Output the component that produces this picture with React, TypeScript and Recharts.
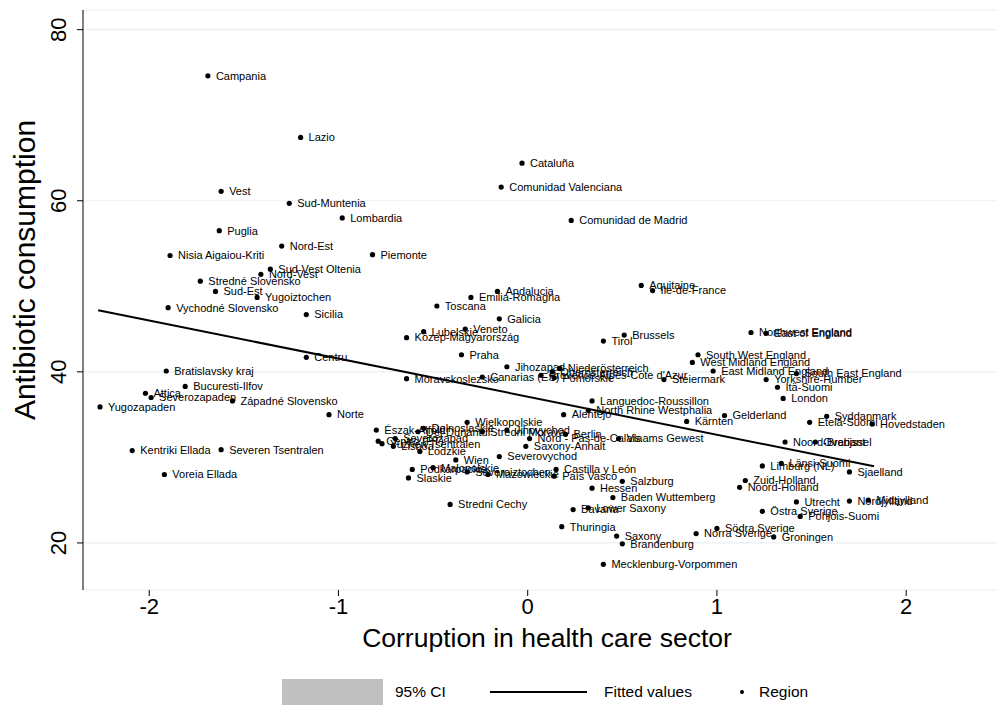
import { CartesianGrid, Scatter, ScatterChart, XAxis, YAxis } from "recharts";

// Regions: name, corruption index, antibiotic consumption.
const regionNames = [
  "Campania", "Lazio", "Cataluña", "Comunidad Valenciana", "Vest", "Sud-Muntenia",
  "Lombardia", "Comunidad de Madrid", "Puglia", "Nord-Est", "Piemonte", "Nisia Aigaiou-Kriti",
  "Sud-Vest Oltenia", "Nord-Vest", "Stredné Slovensko", "Sud-Est", "Yugoiztochen",
  "Vychodné Slovensko", "Sicilia", "Centru", "Bratislavsky kraj", "Bucuresti-Ilfov", "Attica",
  "Severozapaden", "Západné Slovensko", "Yugozapaden", "Norte", "Kentriki Ellada",
  "Severen Tsentralen", "Voreia Ellada", "Aquitaine", "Ile-de-France", "Andalucia",
  "Emilia-Romagna", "Toscana", "Galicia", "Lubelskie", "Veneto", "Közép-Magyarország", "Praha",
  "Brussels", "Tirol", "Northwest England", "East of England", "South West England",
  "West Midland England", "East Midland England", "South East England", "Steiermark",
  "Yorkshire-Humber", "Itä-Suomi", "London", "Jihozapad", "Moravskoslezsko", "Canarias (ES)",
  "Languedoc-Roussillon", "North Rhine Westphalia", "Alentejo", "Gelderland", "Kärnten",
  "Syddanmark", "Etelä-Suomi", "Hovedstaden", "Wielkopolskie", "Észak-Alföld", "Dolnoslaskie",
  "Dél-Dunántúl", "Stredni Morava", "Jihovychod", "Berlin", "Nord - Pas-de-Calais",
  "Vlaams Gewest", "Severozapad", "Centro (PT)", "Yuzhen Tsentralen", "Lisboa", "Lodzkie",
  "Saxony-Anhalt", "Noord-Brabant", "Overijssel", "Wien", "Severovychod", "Länsi-Suomi",
  "Limburg (NL)", "Malopolskie", "Podkarpackie", "Castilla y León", "Severoiztochen",
  "Sjaelland", "Mazowieckie", "País Vasco", "Slaskie", "Zuid-Holland", "Salzburg",
  "Noord-Holland", "Hessen", "Baden Wuttemberg", "Utrecht", "Nordjylland", "Midtjylland",
  "Stredni Cechy", "Lower Saxony", "Bavaria", "Östra Sverige", "Pohjois-Suomi", "Thuringia",
  "Södra Sverige", "Norra Sverige", "Saxony", "Groningen", "Brandenburg",
  "Mecklenburg-Vorpommen", "Niederösterreich", "Oberösterreich", "Provence-Alpes-Cote d'Azur",
  "Pomorskie",
];

const corruption = [
  -1.69, -1.2, -0.03, -0.14, -1.62, -1.26,
  -0.98, 0.23, -1.63, -1.3, -0.82, -1.89,
  -1.36, -1.41, -1.73, -1.65, -1.43,
  -1.9, -1.17, -1.17, -1.91, -1.81, -2.02,
  -1.99, -1.56, -2.26, -1.05, -2.09,
  -1.62, -1.92, 0.6, 0.66, -0.16,
  -0.3, -0.48, -0.15, -0.55, -0.33, -0.64, -0.35,
  0.51, 0.4, 1.18, 1.26, 0.9,
  0.87, 0.98, 1.42, 0.72,
  1.26, 1.32, 1.35, -0.11, -0.64, -0.24,
  0.34, 0.32, 0.19, 1.04, 0.84,
  1.58, 1.49, 1.82, -0.32, -0.8, -0.55,
  -0.58, -0.24, -0.11, 0.2, 0.01,
  0.48, -0.7, -0.79, -0.77, -0.71, -0.57,
  -0.01, 1.36, 1.52, -0.38, -0.15, 1.34,
  1.24, -0.5, -0.61, 0.15, -0.32,
  1.7, -0.21, 0.14, -0.63, 1.15, 0.5,
  1.12, 0.34, 0.45, 1.42, 1.7, 1.8,
  -0.41, 0.32, 0.24, 1.24, 1.44, 0.18,
  1.0, 0.89, 0.47, 1.3, 0.5,
  0.4, 0.17, 0.13, 0.07,
  0.14,
];

const antibiotic = [
  74.6, 67.4, 64.4, 61.6, 61.1, 59.7,
  58.0, 57.7, 56.5, 54.7, 53.7, 53.6,
  52.0, 51.4, 50.6, 49.4, 48.7,
  47.5, 46.7, 41.7, 40.1, 38.3, 37.5,
  37.0, 36.6, 35.9, 35.0, 30.8,
  30.9, 28.0, 50.1, 49.5, 49.4,
  48.7, 47.7, 46.2, 44.7, 45.0, 44.0, 42.0,
  44.3, 43.6, 44.6, 44.5, 42.0,
  41.1, 40.1, 39.8, 39.1,
  39.1, 38.2, 36.9, 40.6, 39.2, 39.4,
  36.6, 35.5, 35.0, 34.9, 34.2,
  34.8, 34.1, 33.9, 34.1, 33.2, 33.4,
  33.0, 33.0, 33.2, 32.7, 32.2,
  32.2, 32.2, 31.9, 31.6, 31.3, 30.7,
  31.3, 31.8, 31.8, 29.7, 30.1, 29.3,
  29.0, 28.8, 28.6, 28.6, 28.3,
  28.3, 28.0, 27.8, 27.6, 27.3, 27.2,
  26.5, 26.4, 25.3, 24.8, 24.9, 25.0,
  24.5, 24.1, 23.9, 23.7, 23.1, 21.9,
  21.7, 21.1, 20.8, 20.7, 19.9,
  17.5, 40.4, 40.0, 39.6,
  39.3,
];

// Fitted values (linear fit), end points.
const fitX = [-2.27, 1.83];
const fitY = [47.2, 28.96];

const yTicks = [20, 40, 60, 80];
const xTicks = [-2, -1, 0, 1, 2];

const regions = regionNames.map((name, i) => ({ name, x: corruption[i], y: antibiotic[i] }));
const fit = fitX.map((x, i) => ({ x, y: fitY[i] }));

const FONT = "'Liberation Sans', Arial, Helvetica, sans-serif";

function RegionDot(props: any) {
  const { cx, cy, payload } = props;
  return (
    <g>
      <circle cx={cx} cy={cy} r={2.6} fill="#000" />
      <text x={cx + 8} y={cy} dy="0.35em" fontSize={11} fontFamily={FONT} fill="#000">
        {payload.name}
      </text>
    </g>
  );
}

function YTick(props: any) {
  const { x, y, payload } = props;
  return (
    <text
      x={x}
      y={y}
      transform={`rotate(-90 ${x} ${y})`}
      textAnchor="middle"
      fontSize={22}
      fontFamily={FONT}
      fill="#000"
    >
      {payload.value}
    </text>
  );
}

function YTitle() {
  return (
    <text
      x={35}
      y={270}
      transform="rotate(-90 35 270)"
      textAnchor="middle"
      fontSize={30}
      fontFamily={FONT}
      fill="#000"
    >
      Antibiotic consumption
    </text>
  );
}

function XTitle() {
  return (
    <text x={547} y={647} textAnchor="middle" fontSize={26.5} fontFamily={FONT} fill="#000">
      Corruption in health care sector
    </text>
  );
}

export default function App() {
  return (
    <div style={{ position: "absolute", left: 0, top: 0, width: 997, height: 705, background: "#fff" }}>
      <ScatterChart width={997} height={705} margin={{ top: 10, right: 0, bottom: 55, left: 0 }}>
        <CartesianGrid vertical={false} stroke="#e8eff2" strokeWidth={1.2} />
        <XAxis
          type="number"
          dataKey="x"
          domain={[-2.35, 2.48]}
          ticks={xTicks}
          allowDataOverflow
          axisLine={false}
          tickLine={{ stroke: "#000" }}
          tickSize={6}
          tickMargin={2}
          height={60}
          tick={{ fontSize: 22, fill: "#000", fontFamily: FONT }}
          label={<XTitle />}
        />
        <YAxis
          type="number"
          dataKey="y"
          domain={[14.5, 82.3]}
          ticks={yTicks}
          allowDataOverflow
          width={83}
          axisLine={{ stroke: "#000" }}
          tickLine={{ stroke: "#000" }}
          tickSize={6}
          tickMargin={11}
          tick={<YTick />}
          label={<YTitle />}
        />
        <Scatter data={regions} shape={<RegionDot />} isAnimationActive={false} />
        <Scatter
          data={fit}
          line={{ stroke: "#000", strokeWidth: 2 }}
          shape={() => <g />}
          isAnimationActive={false}
        />
      </ScatterChart>
      <div
        style={{
          position: "absolute",
          left: 282,
          top: 679,
          width: 101,
          height: 26,
          background: "#c0c0c0",
        }}
      />
      <div style={{ position: "absolute", left: 395, top: 683, fontSize: 15.5, fontFamily: FONT }}>95% CI</div>
      <div style={{ position: "absolute", left: 490, top: 691, width: 97, height: 2, background: "#000" }} />
      <div style={{ position: "absolute", left: 604, top: 683, fontSize: 15.5, fontFamily: FONT }}>Fitted values</div>
      <div
        style={{
          position: "absolute",
          left: 740,
          top: 690,
          width: 4,
          height: 4,
          borderRadius: 2,
          background: "#000",
        }}
      />
      <div style={{ position: "absolute", left: 759, top: 683, fontSize: 15.5, fontFamily: FONT }}>Region</div>
    </div>
  );
}
